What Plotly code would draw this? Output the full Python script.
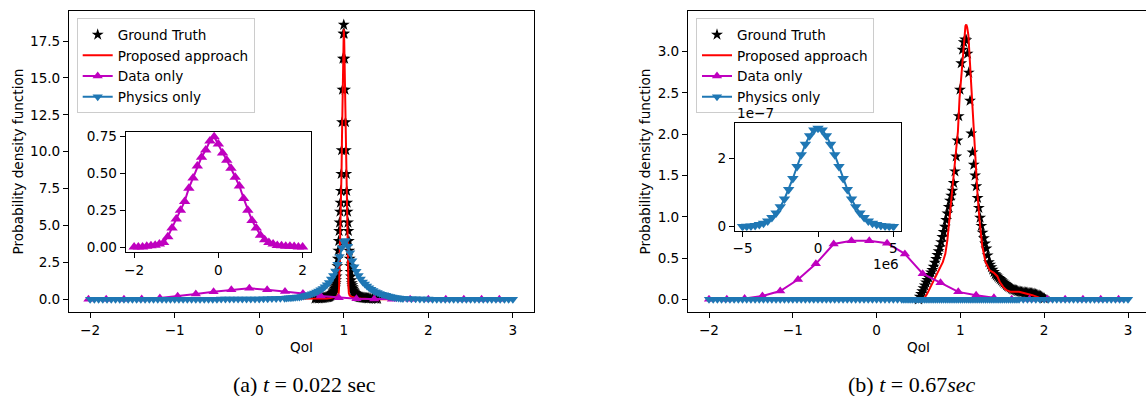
import plotly.graph_objects as go

W, H = 1146, 396

# ---------------- Panel (a): t = 0.022 sec ----------------
GT_A_X = [0.66, 0.68,
          0.70, 0.71, 0.72, 0.73, 0.74, 0.75, 0.76, 0.77, 0.78, 0.79,
          0.800, 0.805, 0.810, 0.815, 0.820, 0.825, 0.830, 0.835, 0.840, 0.845,
          0.850, 0.855, 0.860, 0.865, 0.870, 0.875, 0.880, 0.885, 0.890, 0.895,
          0.900, 0.905, 0.910, 0.915, 0.920, 0.925, 0.930, 0.935, 0.940, 0.945,
          0.950, 0.955, 0.960, 0.965, 0.970, 0.975, 0.980, 0.985, 0.990, 0.995,
          1.000,
          1.005, 1.010, 1.015, 1.020, 1.025, 1.030, 1.035, 1.040, 1.045, 1.050,
          1.055, 1.060, 1.065, 1.070, 1.075, 1.080, 1.085, 1.090, 1.095, 1.100,
          1.105, 1.110, 1.115, 1.120, 1.125, 1.130, 1.135, 1.140, 1.145, 1.150,
          1.155, 1.160, 1.165, 1.170, 1.175, 1.180, 1.185, 1.190, 1.195, 1.200,
          1.21, 1.22, 1.23, 1.24, 1.25, 1.26, 1.27, 1.28, 1.29, 1.30,
          1.32, 1.34, 1.36, 1.38, 1.40]
GT_A_Y = [0.05, 0.055,
          0.065, 0.07, 0.075, 0.08, 0.085, 0.09, 0.10, 0.11, 0.12, 0.13,
          0.14, 0.15, 0.16, 0.17, 0.18, 0.19, 0.20, 0.22, 0.24, 0.26,
          0.28, 0.31, 0.34, 0.38, 0.43, 0.48, 0.55, 0.62, 0.72, 0.82,
          0.95, 1.1, 1.3, 1.55, 1.85, 2.25, 2.75, 3.3, 3.95, 4.63,
          5.2, 5.94, 6.55, 7.35, 8.5, 10.1, 12.0, 14.2, 16.3, 18.0,
          18.6,
          18.0, 16.3, 14.2, 12.0, 10.1, 8.5, 7.35, 6.55, 5.94, 5.2,
          4.63, 3.95, 3.3, 2.75, 2.25, 1.85, 1.55, 1.3, 1.1, 0.95,
          0.82, 0.72, 0.62, 0.55, 0.48, 0.43, 0.38, 0.34, 0.31, 0.28,
          0.26, 0.24, 0.22, 0.20, 0.19, 0.18, 0.17, 0.16, 0.15, 0.14,
          0.13, 0.12, 0.11, 0.10, 0.09, 0.085, 0.08, 0.075, 0.07, 0.065,
          0.055, 0.05, 0.04, 0.035, 0.03]

PROP_A_X = [-2.0, 0.65, 0.70, 0.75, 0.80, 0.84, 0.88, 0.91, 0.93, 0.94, 0.945,
            0.95, 0.955, 0.96, 0.965, 0.97, 0.974, 0.978, 0.982, 0.985, 0.99,
            0.995, 1.0, 1.005, 1.01, 1.015, 1.018, 1.022, 1.026, 1.03, 1.035,
            1.04, 1.045, 1.05, 1.055, 1.06, 1.07, 1.09, 1.12, 1.16, 1.2, 1.25,
            1.3, 1.35, 3.0]
PROP_A_Y = [0.0, 0.0, 0.01, 0.03, 0.05, 0.08, 0.12, 0.18, 0.25, 0.4, 0.9,
            2.0, 3.2, 4.6, 5.8, 7.0, 8.8, 10.6, 12.6, 14.0, 15.9,
            17.6, 18.3, 17.6, 15.9, 14.0, 12.6, 10.6, 8.8, 7.0, 5.8,
            4.6, 3.2, 2.0, 0.9, 0.4, 0.25, 0.18, 0.12, 0.08, 0.05, 0.03,
            0.01, 0.0, 0.0]

DATA_A_X = [-2.02, -1.81, -1.60, -1.39, -1.175, -0.965, -0.75, -0.54, -0.33,
            -0.117, 0.094, 0.305, 0.517, 0.728, 0.94, 1.15, 1.36, 1.57, 1.785,
            2.0, 2.207, 2.42, 2.63, 2.84]
DATA_A_Y = [0.0, 0.0, 0.008, 0.02, 0.085, 0.21, 0.36, 0.52, 0.65,
            0.75, 0.64, 0.53, 0.40, 0.23, 0.11, 0.04, 0.015, 0.006, 0.0,
            0.0, 0.0, 0.0, 0.0, 0.0]

PHYS_X = ([-2.0, -1.95, -1.9, -1.85, -1.8, -1.75, -1.7, -1.65, -1.6, -1.55,
           -1.5, -1.45, -1.4, -1.35, -1.3, -1.25, -1.2, -1.15, -1.1, -1.05, -1.0,
           -0.95, -0.9, -0.85, -0.8, -0.75, -0.7, -0.65, -0.6, -0.55, -0.5,
           -0.45, -0.4, -0.35, -0.3, -0.25, -0.2, -0.15, -0.1, -0.05, 0.0,
           0.05, 0.1, 0.15, 0.2, 0.25]
          + [0.3, 0.325, 0.35, 0.375, 0.4, 0.425, 0.45, 0.475, 0.5, 0.525,
             0.55, 0.575, 0.6, 0.625, 0.65, 0.675, 0.7, 0.725, 0.75, 0.775,
             0.8, 0.825, 0.85, 0.875, 0.9, 0.925, 0.95, 0.975,
             1.0, 1.025, 1.05, 1.075, 1.1, 1.125, 1.15, 1.175, 1.2, 1.225,
             1.25, 1.275, 1.3, 1.325, 1.35, 1.375, 1.4, 1.425, 1.45, 1.475,
             1.5, 1.525, 1.55, 1.575, 1.6, 1.625, 1.65, 1.675, 1.7]
          + [1.75, 1.8, 1.85, 1.9, 1.95, 2.0, 2.05, 2.1, 2.15, 2.2, 2.25, 2.3,
             2.35, 2.4, 2.45, 2.5, 2.55, 2.6, 2.65, 2.7, 2.75, 2.8, 2.85, 2.9,
             2.95, 3.0])
PHYS_A_Y = ([0.005] * 21 + [0.01] * 10 + [0.02] * 10
            + [0.03, 0.04, 0.05, 0.06, 0.07]
            + [0.08, 0.09, 0.10, 0.11, 0.12, 0.135, 0.15, 0.16, 0.19, 0.22,
               0.25, 0.29, 0.33, 0.37, 0.43, 0.50, 0.56, 0.64, 0.73, 0.85,
               0.98, 1.14, 1.38, 1.62, 1.92, 2.38, 2.90, 3.50,
               3.92, 3.98, 3.60, 3.15, 2.62, 2.20, 1.90, 1.62, 1.38, 1.18,
               1.03, 0.90, 0.78, 0.68, 0.59, 0.52, 0.46, 0.40, 0.35, 0.31,
               0.27, 0.23, 0.19, 0.16, 0.13, 0.11, 0.09, 0.075, 0.06]
            + [0.05, 0.04, 0.03, 0.02, 0.015, 0.015] + [0.01] * 10 + [0.005] * 10)

INSET_A_X = [-2.0, -1.9, -1.8, -1.7, -1.6, -1.5, -1.4, -1.3, -1.2, -1.1, -1.0,
             -0.9, -0.8, -0.7, -0.6, -0.5, -0.4, -0.3, -0.2, -0.1, 0.0,
             0.1, 0.2, 0.3, 0.4, 0.5, 0.6, 0.7, 0.8, 0.9, 1.0,
             1.1, 1.2, 1.3, 1.4, 1.5, 1.6, 1.7, 1.8, 1.9, 2.0]
INSET_A_Y = [0.0, 0.0, 0.0, 0.005, 0.008, 0.012, 0.02, 0.03, 0.07, 0.13, 0.19,
             0.25, 0.31, 0.40, 0.47, 0.55, 0.61, 0.66, 0.72, 0.75, 0.70,
             0.64, 0.59, 0.535, 0.475, 0.415, 0.33, 0.25, 0.18, 0.13, 0.08,
             0.05, 0.03, 0.02, 0.01, 0.008, 0.005, 0.005, 0.003, 0.0, 0.0]

# ---------------- Panel (b): t = 0.67 sec ----------------
GT_B_X = [0.500, 0.515, 0.530, 0.545, 0.560, 0.575, 0.590, 0.605, 0.620, 0.635,
          0.650, 0.665, 0.680, 0.695, 0.710, 0.725, 0.740, 0.755, 0.770, 0.785,
          0.800, 0.815, 0.830, 0.845, 0.860, 0.875, 0.890, 0.905, 0.920, 0.935,
          0.950, 0.965, 0.980, 0.995, 1.010, 1.025, 1.040, 1.055, 1.070, 1.085,
          1.100, 1.115, 1.130, 1.145, 1.160, 1.175, 1.190, 1.205, 1.220, 1.235,
          1.250, 1.265, 1.280, 1.295, 1.310, 1.325, 1.340, 1.355, 1.370, 1.385,
          1.400, 1.415, 1.430, 1.445, 1.460, 1.475, 1.490, 1.505, 1.520, 1.535,
          1.550, 1.565, 1.580, 1.595, 1.610, 1.625, 1.640, 1.655, 1.670, 1.685,
          1.700, 1.715, 1.730, 1.745, 1.760, 1.775, 1.790, 1.805, 1.820, 1.835,
          1.850, 1.865, 1.880, 1.895, 1.910, 1.925, 1.940, 1.955, 1.970, 1.985,
          2.000]
GT_B_Y = [0.00, 0.03, 0.064, 0.098, 0.133, 0.168, 0.203, 0.234, 0.265, 0.295,
          0.325, 0.356, 0.395, 0.442, 0.489, 0.536, 0.583, 0.632, 0.693, 0.754,
          0.815, 0.88, 0.96, 1.04, 1.12, 1.196, 1.256, 1.316, 1.41, 1.55,
          1.73, 1.925, 2.22, 2.54, 2.86, 3.025, 3.115, 3.15, 3.14, 2.975,
          2.747, 2.406, 2.01, 1.78, 1.63, 1.50, 1.37, 1.228, 1.108, 0.988,
          0.89, 0.808, 0.739, 0.677, 0.615, 0.532, 0.45, 0.42, 0.39, 0.36,
          0.33, 0.305, 0.29, 0.275, 0.26, 0.245, 0.23, 0.215, 0.20, 0.185,
          0.17, 0.16, 0.15, 0.14, 0.13, 0.12, 0.116, 0.11, 0.105, 0.10,
          0.095, 0.09, 0.088, 0.086, 0.084, 0.082, 0.08, 0.078, 0.076, 0.074,
          0.072, 0.07, 0.066, 0.061, 0.055, 0.05, 0.045, 0.04, 0.03, 0.02,
          0.01]

PROP_B_X = [-2.0, 0.56, 0.60, 0.65, 0.70, 0.75, 0.79, 0.82, 0.845, 0.87,
            0.89, 0.91, 0.94, 0.97, 0.99, 1.02, 1.05, 1.06, 1.07, 1.08, 1.095,
            1.115, 1.135, 1.155, 1.18, 1.205, 1.23, 1.26, 1.30, 1.35, 1.40,
            1.44, 1.47, 1.51, 1.55, 1.60, 1.70, 1.78, 1.86, 1.94, 2.0, 3.0]
PROP_B_Y = [0.0, 0.0, 0.06, 0.16, 0.26, 0.36, 0.45, 0.55, 0.72, 0.98,
            1.20, 1.42, 1.71, 2.03, 2.44, 2.84, 3.24, 3.31, 3.33, 3.30, 3.20,
            2.84, 2.44, 2.03, 1.63, 1.26, 0.94, 0.65, 0.45, 0.35, 0.32,
            0.28, 0.21, 0.15, 0.11, 0.09, 0.09, 0.07, 0.05, 0.02, 0.0, 0.0]

DATA_B_X = [-2.0, -1.7875, -1.575, -1.3625, -1.15, -0.9375, -0.725, -0.5125,
            -0.3, -0.0875, 0.125, 0.3375, 0.55, 0.7625, 0.975, 1.1875, 1.4,
            1.6125, 1.825, 2.0375, 2.25, 2.4625, 2.675, 2.8875]
DATA_B_Y = [0.0, 0.0, 0.01, 0.04, 0.10, 0.24, 0.43, 0.67,
            0.71, 0.71, 0.68, 0.55, 0.31, 0.20, 0.09, 0.05, 0.02,
            0.0, 0.0, 0.0, 0.0, 0.0, 0.0, 0.0]

PHYS_B_Y = [0.0] * 129

INSET_B_X = [-5.0e6, -4.722e6, -4.444e6, -4.167e6, -3.889e6, -3.611e6, -3.333e6,
             -3.056e6, -2.778e6, -2.5e6, -2.222e6, -1.944e6, -1.667e6, -1.389e6,
             -1.111e6, -0.833e6, -0.556e6, -0.278e6, 0.0, 0.278e6, 0.556e6,
             0.833e6, 1.111e6, 1.389e6, 1.667e6, 1.944e6, 2.222e6, 2.5e6,
             2.778e6, 3.056e6, 3.333e6, 3.611e6, 3.889e6, 4.167e6, 4.444e6,
             4.722e6, 5.0e6]
INSET_B_Y = [0.005e-7, 0.01e-7, 0.019e-7, 0.035e-7, 0.062e-7, 0.10e-7, 0.17e-7,
             0.27e-7, 0.40e-7, 0.58e-7, 0.81e-7, 1.09e-7, 1.41e-7, 1.76e-7,
             2.10e-7, 2.41e-7, 2.66e-7, 2.83e-7, 2.88e-7, 2.83e-7, 2.66e-7,
             2.41e-7, 2.10e-7, 1.76e-7, 1.41e-7, 1.09e-7, 0.81e-7, 0.58e-7,
             0.40e-7, 0.27e-7, 0.17e-7, 0.10e-7, 0.062e-7, 0.035e-7, 0.019e-7,
             0.01e-7, 0.005e-7]

# ---------------- styling ----------------
BLACK = "#000000"
RED = "#ff0000"
MAG = "#bf00bf"
BLUE = "#1f77b4"
FONT = "DejaVu Sans"
FS = 13.6


def px(x):
    return x / W


def py(y):
    return 1 - y / H


fig = go.Figure()


def add_panel(xa, ya, leg, gx, gy, prx, pry, dx, dy, phx, phy):
    fig.add_trace(go.Scatter(x=gx, y=gy, mode="markers", name="Ground Truth",
                             xaxis=xa, yaxis=ya, legend=leg,
                             marker=dict(symbol="star", size=9, color=BLACK,
                                         line=dict(width=0))))
    fig.add_trace(go.Scatter(x=prx, y=pry, mode="lines", name="Proposed approach",
                             xaxis=xa, yaxis=ya, legend=leg,
                             line=dict(color=RED, width=2)))
    fig.add_trace(go.Scatter(x=dx, y=dy, mode="lines+markers", name="Data only",
                             xaxis=xa, yaxis=ya, legend=leg,
                             line=dict(color=MAG, width=2),
                             marker=dict(symbol="triangle-up", size=9, color=MAG,
                                         line=dict(width=0))))
    fig.add_trace(go.Scatter(x=phx, y=phy, mode="lines+markers", name="Physics only",
                             xaxis=xa, yaxis=ya, legend=leg,
                             line=dict(color=BLUE, width=2),
                             marker=dict(symbol="triangle-down", size=9, color=BLUE,
                                         line=dict(width=0))))


add_panel("x", "y", "legend", GT_A_X, GT_A_Y, PROP_A_X, PROP_A_Y,
          DATA_A_X, DATA_A_Y, PHYS_X, PHYS_A_Y)
fig.add_trace(go.Scatter(x=INSET_A_X, y=INSET_A_Y, mode="lines+markers",
                         xaxis="x2", yaxis="y2", showlegend=False,
                         line=dict(color=MAG, width=2),
                         marker=dict(symbol="triangle-up", size=10, color=MAG,
                                     line=dict(width=0))))
add_panel("x3", "y3", "legend2", GT_B_X, GT_B_Y, PROP_B_X, PROP_B_Y,
          DATA_B_X, DATA_B_Y, PHYS_X, PHYS_B_Y)
fig.add_trace(go.Scatter(x=INSET_B_X, y=INSET_B_Y, mode="lines+markers",
                         xaxis="x4", yaxis="y4", showlegend=False,
                         line=dict(color=BLUE, width=2),
                         marker=dict(symbol="triangle-down", size=10, color=BLUE,
                                     line=dict(width=0))))

axis_common = dict(showline=True, linecolor=BLACK, linewidth=1, mirror=True,
                   ticks="outside", ticklen=5, tickwidth=1, tickcolor=BLACK,
                   showgrid=False, zeroline=False, automargin=False,
                   tickfont=dict(family=FONT, size=FS, color=BLACK))

main_y_dom = [py(312.3), py(11)]
fig.update_layout(
    template="none",
    xaxis=dict(axis_common, domain=[px(69), px(534)], range=[-2.25, 3.25],
               tickvals=[-2, -1, 0, 1, 2, 3], anchor="y"),
    yaxis=dict(axis_common, domain=main_y_dom, range=[-0.88, 19.535],
               tickvals=[0, 2.5, 5, 7.5, 10, 12.5, 15, 17.5], tickformat=".1f",
               anchor="x"),
    xaxis2=dict(axis_common, domain=[px(125.7), px(311)], range=[-2.2, 2.2],
                tickvals=[-2, 0, 2], anchor="y2"),
    yaxis2=dict(axis_common, domain=[py(252.3), py(131.7)], range=[-0.036, 0.784],
                tickvals=[0, 0.25, 0.5, 0.75], tickformat=".2f", anchor="x2"),
    xaxis3=dict(axis_common, domain=[px(688), 1.0], range=[-2.2506, 3.2148],
                tickvals=[-2, -1, 0, 1, 2, 3], anchor="y3"),
    yaxis3=dict(axis_common, domain=main_y_dom, range=[-0.1577, 3.4933],
                tickvals=[0, 0.5, 1, 1.5, 2, 2.5, 3], tickformat=".1f",
                anchor="x3", mirror=False),
    xaxis4=dict(axis_common, domain=[px(735), px(901)], range=[-5.5e6, 5.5e6],
                tickvals=[-5e6, 0, 5e6], ticktext=["\u22125", "0", "5"], anchor="y4"),
    yaxis4=dict(axis_common, domain=[py(230.7), py(122.7)],
                range=[-0.117e-7, 3.04e-7],
                tickvals=[0, 2e-7], ticktext=["0", "2"], anchor="x4"),
)

legend_common = dict(bgcolor="rgba(255,255,255,0.8)", bordercolor="#cccccc",
                     borderwidth=1, font=dict(family=FONT, size=FS, color=BLACK),
                     xanchor="left", yanchor="top", traceorder="normal")
fig.update_layout(
    legend=dict(legend_common, x=px(76.7), y=py(18.3)),
    legend2=dict(legend_common, x=px(696), y=py(18.3)),
)

ann = []
lab = dict(family=FONT, size=FS, color=BLACK)
ann.append(dict(x=px(17), y=py(161.5), text="Probability density function",
                textangle=-90, showarrow=False, font=lab,
                xref="paper", yref="paper", xanchor="center", yanchor="middle"))
ann.append(dict(x=px(644), y=py(161.5), text="Probability density function",
                textangle=-90, showarrow=False, font=lab,
                xref="paper", yref="paper", xanchor="center", yanchor="middle"))
ann.append(dict(x=px(301.5), y=py(347), text="QoI", showarrow=False, font=lab,
                xref="paper", yref="paper", xanchor="center", yanchor="middle"))
ann.append(dict(x=px(918.5), y=py(347), text="QoI", showarrow=False, font=lab,
                xref="paper", yref="paper", xanchor="center", yanchor="middle"))
ann.append(dict(x=px(735), y=py(113), text="1e\u22127", showarrow=False, font=lab,
                xref="paper", yref="paper", xanchor="left", yanchor="middle"))
ann.append(dict(x=px(901), y=py(264), text="1e6", showarrow=False, font=lab,
                xref="paper", yref="paper", xanchor="right", yanchor="middle"))
cap = dict(family="Liberation Serif", size=22, color=BLACK)
ann.append(dict(x=px(304), y=py(384), text="(a) <i>t</i> = 0.022 sec",
                showarrow=False, font=cap, xref="paper", yref="paper",
                xanchor="center", yanchor="middle"))
ann.append(dict(x=px(912), y=py(384), text="(b) <i>t</i> = 0.67<i>sec</i>",
                showarrow=False, font=cap, xref="paper", yref="paper",
                xanchor="center", yanchor="middle"))

fig.update_layout(annotations=ann, width=W, height=H,
                  margin=dict(l=0, r=0, t=0, b=0, autoexpand=False),
                  paper_bgcolor="white", plot_bgcolor="white",
                  font=dict(family=FONT, size=FS, color=BLACK))

fig.write_html("out.html",
               config={"displayModeBar": False},
               post_script="document.body.style.margin='0';"
                           "document.body.style.padding='0';"
                           "document.body.style.overflow='hidden';")
